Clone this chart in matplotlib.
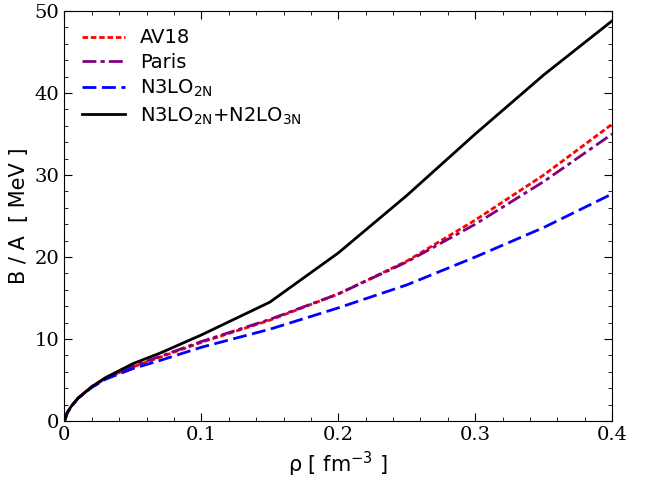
import matplotlib
matplotlib.use("Agg")
import matplotlib.pyplot as plt

rho = [0.0, 0.002, 0.005, 0.01, 0.02, 0.03, 0.05, 0.07, 0.1, 0.15, 0.2, 0.25, 0.3, 0.35, 0.4]
av18 = [0.0, 1.0, 1.8, 2.8, 4.2, 5.2, 6.6, 7.8, 9.6, 12.3, 15.5, 19.5, 24.5, 30.0, 36.2]
paris = [0.0, 1.0, 1.8, 2.8, 4.2, 5.2, 6.7, 7.9, 9.7, 12.4, 15.5, 19.4, 24.0, 29.2, 35.0]
n3lo = [0.0, 1.0, 1.8, 2.8, 4.1, 5.1, 6.4, 7.4, 9.0, 11.2, 13.8, 16.6, 20.0, 23.6, 27.7]
n3lo_3n = [0.0, 1.0, 1.8, 2.8, 4.2, 5.3, 7.0, 8.3, 10.5, 14.5, 20.5, 27.5, 35.0, 42.2, 48.8]

fig, ax = plt.subplots(figsize=(6.64, 4.96), dpi=100)
fig.subplots_adjust(left=0.097, right=0.922, bottom=0.151, top=0.978)

ax.plot(rho, av18, color="red", linestyle=(0, (2, 1)), lw=2, label="AV18")
ax.plot(rho, paris, color="purple", linestyle=(0, (5, 1.5, 1.5, 1.5)), lw=2, label="Paris")
ax.plot(rho, n3lo, color="blue", linestyle=(0, (5, 2)), lw=2, label=r"N3LO$_{\mathrm{2N}}$")
ax.plot(rho, n3lo_3n, color="black", lw=2, label=r"N3LO$_{\mathrm{2N}}$+N2LO$_{\mathrm{3N}}$")

ax.set_xlim(0, 0.4)
ax.set_ylim(0, 50)
ax.set_xticks([0, 0.1, 0.2, 0.3, 0.4])
ax.set_xticklabels(["0", "0.1", "0.2", "0.3", "0.4"])
ax.set_yticks(range(0, 51, 10))
ax.tick_params(direction="in", top=True, right=True, labelsize=14, length=6)
ax.minorticks_on()
ax.tick_params(which="minor", direction="in", top=True, right=True, length=3)
for t in ax.get_xticklabels() + ax.get_yticklabels():
    t.set_family("DejaVu Serif")
ax.set_xlabel(r"ρ [ fm$^{-3}$ ]", fontsize=15)
ax.set_ylabel("B / A  [ MeV ]", fontsize=15)
ax.legend(loc="upper left", frameon=False, fontsize=14, handlelength=2.2, labelspacing=0.3)

fig.savefig("out.png")
